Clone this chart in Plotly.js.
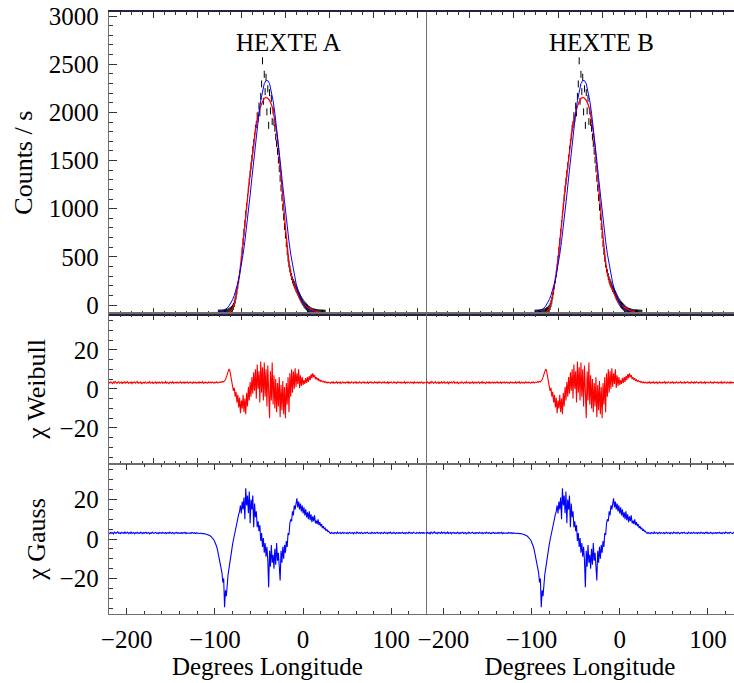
<!DOCTYPE html>
<html><head><meta charset="utf-8">
<script src="https://cdn.plot.ly/plotly-3.0.1.min.js"></script>
<style>html,body{margin:0;padding:0;background:#fff}#chart{width:734px;height:683px}</style>
</head><body><div id="chart"></div>
<script>
// ---- model fits (counts / s) ----
const fitX = [-220, -100, -96, -92, -88, -86, -84, -82, -80, -78, -76, -74, -72, -70, -68, -66, -64, -62, -60, -58,
  -56, -54, -52, -50, -48, -46, -44, -42, -40, -38, -36, -34, -32, -30, -28, -26, -24, -22, -20, -18,
  -16, -14, -12, -10, -8, -6, -4, -2, 0, 2, 4, 6, 8, 10, 14, 18, 22, 26, 30, 140];
const weibullFit = [-85, -85, -85, -85, -83, -80, -75, -65, -40, 10, 100, 200, 320, 475, 670, 855, 1030, 1195, 1355, 1525,
  1685, 1815, 1925, 2005, 2065, 2110, 2145, 2155, 2147, 2125, 2085, 2025, 1925, 1795, 1635, 1455, 1255, 1025, 805, 605,
  440, 325, 250, 200, 155, 105, 65, 35, 10, -5, -19, -30, -40, -49, -65, -76, -81, -84, -85, -85];
const gaussFit = [-85, -82, -77, -66, -45, -32, -10, 18, 54, 100, 157, 227, 312, 412, 528, 661, 809, 970, 1142, 1320,
  1500, 1676, 1841, 1992, 2121, 2225, 2298, 2330, 2330, 2298, 2225, 2121, 1992, 1841, 1676, 1500, 1320, 1142, 970, 809,
  661, 528, 412, 312, 227, 157, 100, 54, 18, -10, -33, -47, -57, -66, -77, -82, -84, -85, -85, -85];

// ---- measured count rate, 1 degree bins starting at -96 ----
const countsStart = -96;
const counts = [-84, -85, -83, -84, -82, -83, -81, -82, -79, -77, -75, -71, -67, -60, -55, -45, -33, -15, 15, 50,
  95, 145, 205, 260, 325, 395, 475, 565, 660, 755, 845, 945, 1025, 1115, 1205, 1285, 1365, 1445, 1525, 1615,
  1685, 1755, 1835, 1875, 1965, 1935, 2065, 1995, 2165, 2295, 2535, 2115, 2395, 2215, 2365, 2005, 2245, 1865, 2205, 2015,
  2145, 1905, 2015, 1895, 1835, 1745, 1675, 1595, 1505, 1415, 1315, 1215, 1115, 1015, 915, 815, 725, 635, 555, 485,
  425, 375, 335, 295, 260, 235, 215, 195, 170, 155, 135, 115, 95, 75, 55, 40, 25, 10, 0, -10,
  -20, -30, -40, -47, -55, -60, -65, -68, -71, -74, -76, -78, -79, -80, -81, -82, -83, -83, -84, -84,
  -85, -85];

// ---- residuals, 1 degree bins starting at -220 ----
const chiStart = -220;
const chiWeibull = [
  3.4, 2.9, 3.6, 3.1, 2.7, 3.5, 3.0, 3.8, 3.2, 2.8, 3.3, 3.7, 2.9, 3.1, 3.5, 2.6, 3.4, 3.0, 3.6, 2.9,
  3.2, 3.7, 2.8, 3.3, 3.0, 3.5, 2.7, 3.4, 3.1, 3.6, 2.9, 3.2, 3.8, 2.8, 3.3, 3.0, 3.5, 2.7, 3.2, 3.4,
  2.9, 3.6, 3.1, 2.8, 3.4, 3.0, 3.7, 2.9, 3.2, 3.5, 2.6, 3.3, 3.1, 3.6, 2.8, 3.4, 3.0, 3.5, 2.9, 3.2,
  3.6, 2.8, 3.3, 3.0, 3.7, 2.9, 3.4, 3.1, 2.7, 3.5, 3.2, 3.0, 3.6, 2.8, 3.3, 3.1, 3.5, 2.9, 3.4, 3.0,
  3.2, 3.7, 2.9, 3.3, 3.0, 3.5, 2.8, 3.4, 3.1, 3.6, 2.9, 3.2, 3.5, 3.0, 3.3, 2.8, 3.6, 3.1, 3.4, 2.9,
  3.3, 3.0, 3.6, 2.9, 3.4, 3.1, 3.7, 2.8, 3.2, 3.5, 3.0, 3.3, 2.9, 3.6, 3.1, 3.4, 3.0, 3.5, 3.2, 2.9,
  3.4, 3.1, 3.6, 3.0, 3.3, 3.5, 3.2, 3.7, 3.4, 3.8,
  3.6, 4.0, 4.8, 6.0, 7.6, 9.0, 10.1, 9.3, 6.8, 3.5,
  2.0, -1.0, 0.5, -4.0, -1.5, -7.0, -3.0, -9.5, -4.5, -12.5, -6.0, -10.0, -3.0, -12.0, -5.0, -13.0, -2.0, -9.0, 1.0, -6.0,
  3.5, -4.0, 6.0, -2.5, 8.5, -1.0, 10.0, -5.0, 12.5, 0.0, 9.0, -7.0, 14.0, -2.0, 11.0, -6.0, 13.5, -4.0, 10.0, -9.0,
  12.0, -3.0, -15.0, 9.0, -6.0, 13.5, -8.0, 7.0, -10.0, 5.0, -12.0, 3.0, -9.0, 6.0, -14.5, 2.0, -11.0, 4.0, -13.0, 1.0,
  -15.0, 3.0, -8.0, 6.0, -12.0, 8.0, -4.0, 10.0, -2.0, 9.0, 0.0, 10.6, 1.0, 8.0, 2.5, 10.0, 0.5, 7.0, 1.5, 6.0,
  2.0, 4.5, 2.5, 5.5, 3.0, 6.0, 3.5, 6.5, 4.5, 7.5, 5.5, 8.0, 6.0, 7.0, 5.0, 6.0, 4.5, 5.5, 4.0, 4.6,
  3.8, 4.2, 3.6, 3.9, 3.3, 3.7, 3.1, 3.5, 3.0, 3.4,
  3.2, 2.9, 3.5, 3.0, 3.6, 2.8, 3.3, 3.1, 3.7, 2.9, 3.4, 3.0, 3.5, 2.7, 3.2, 3.6, 3.0, 3.3, 2.9, 3.5,
  3.1, 3.7, 2.8, 3.4, 3.0, 3.6, 3.2, 2.9, 3.5, 3.1, 3.8, 2.8, 3.3, 3.0, 3.6, 3.2, 2.9, 3.4, 3.1, 3.7,
  2.9, 3.3, 3.0, 3.5, 2.8, 3.4, 3.2, 3.6, 3.0, 3.3, 2.9, 3.7, 3.1, 3.4, 2.8, 3.5, 3.0, 3.6, 3.2, 2.9,
  3.4, 3.1, 3.7, 2.9, 3.3, 3.0, 3.6, 2.8, 3.4, 3.2, 3.5, 2.9, 3.1, 3.7, 3.0, 3.3, 2.8, 3.6, 3.2, 3.4,
  3.0, 3.5, 2.9, 3.3, 3.1, 3.7, 2.8, 3.4, 3.0, 3.6, 3.2, 2.9, 3.5, 3.1, 3.4, 2.8, 3.6, 3.0, 3.3, 3.1,
  3.5, 2.9, 3.4, 3.0, 3.6, 3.2, 2.8, 3.4, 3.1, 3.5];
const chiGauss = [
  3.1, 2.7, 3.4, 2.9, 3.2, 2.6, 3.5, 3.0, 2.8, 3.3, 3.6, 2.9, 3.1, 2.7, 3.4, 3.0, 3.2, 2.8, 3.5, 2.9,
  3.0, 3.4, 2.7, 3.2, 2.9, 3.5, 2.8, 3.1, 3.3, 2.6, 3.2, 3.0, 3.4, 2.8, 3.1, 2.9, 3.5, 3.0, 2.7, 3.3,
  2.9, 3.2, 3.4, 2.8, 3.0, 3.3, 2.6, 3.1, 2.9, 3.5, 3.0, 2.8, 3.2, 3.4, 2.9, 3.1, 2.7, 3.3, 3.0, 3.2,
  2.8, 3.4, 3.0, 2.9, 3.3, 2.7, 3.1, 3.2, 2.8, 3.5, 3.0, 2.9, 3.3, 3.1, 2.7, 3.2, 3.0, 3.4, 2.8, 3.1,
  3.0, 2.9, 3.3, 2.8, 3.2, 3.0, 3.4, 2.7, 3.1, 3.0, 3.2, 2.9, 3.1, 2.8, 3.3, 3.0, 2.9, 3.2, 2.8, 3.1,
  3.0, 2.9, 3.1, 2.8, 3.0, 2.7, 2.9, 2.6, 2.8, 2.5, 2.4, 2.3, 2.1, 2.0, 1.7, 1.5, 1.1, 0.7, 0.2, -0.5,
  -1.5, -2.5, -3.8, -5.5, -7.5, -10.0, -12.5, -15.0, -17.0, -22.0, -20.0, -34.6, -26.0, -29.0, -20.0, -18.0, -15.0, -11.5, -8.5, -5.5,
  -3.0, -0.5, 2.0, 4.0, 6.5, 9.0, 11.0, 12.5, 14.0, 17.0, 13.0, 19.0, 15.0, 21.0, 10.0, 25.7, 17.0, 22.0, 13.0, 24.0,
  8.0, 20.0, 15.0, 22.0, 6.0, 18.0, 11.0, 14.0, 6.0, 9.0, 4.0, 7.0, -1.0, 3.0, -4.0, 0.5, -7.0, -2.0, -9.0, -4.0,
  -11.0, -24.5, -6.0, -14.0, -3.0, -12.0, -8.0, -15.0, -5.0, -13.0, -2.0, -11.0, -7.0, -14.0, -21.0, -6.0, -12.0, -4.0, -10.0, -3.0,
  -7.0, -1.0, -4.0, 3.0, 2.0, 8.0, 10.0, 9.0, 14.0, 12.0, 17.0, 15.0, 19.0, 20.6, 16.0, 19.0, 15.0, 18.0, 14.0, 17.0,
  13.0, 16.0, 12.0, 15.0, 11.0, 13.5, 10.0, 14.0, 9.5, 12.5, 8.5, 11.5, 9.0, 12.0, 8.0, 9.3, 7.5, 10.0, 7.0, 8.5,
  6.5, 7.5, 5.5, 6.5, 5.0, 5.5, 4.2, 4.8, 3.8, 4.0,
  3.2, 2.8, 3.4, 2.9, 3.1, 2.7, 3.3, 3.0, 2.8, 3.5, 2.9, 3.1, 3.3, 2.7, 3.0, 3.4, 2.8, 3.2, 3.0, 2.9,
  3.3, 2.7, 3.1, 3.4, 2.9, 3.0, 3.2, 2.6, 3.3, 3.0, 2.8, 3.5, 3.1, 2.9, 3.2, 2.8, 3.4, 3.0, 2.7, 3.1,
  3.3, 2.9, 3.0, 3.4, 2.8, 3.2, 3.1, 2.7, 3.5, 3.0, 2.9, 3.3, 2.8, 3.1, 3.4, 2.9, 3.0, 3.2, 2.7, 3.3,
  3.0, 2.8, 3.4, 3.1, 2.9, 3.2, 2.7, 3.3, 3.0, 3.5, 2.8, 3.1, 2.9, 3.4, 3.0, 2.7, 3.2, 3.1, 2.9, 3.3,
  2.8, 3.2, 3.0, 3.4, 2.9, 3.1, 2.7, 3.3, 3.0, 2.8, 3.5, 3.1, 2.9, 3.2, 2.8, 3.4, 3.0, 3.1, 2.7, 3.3,
  3.0, 2.9, 3.4, 2.8, 3.2, 3.0, 3.3, 2.9, 3.1, 3.0];

const panelTitles = ['HEXTE A', 'HEXTE B'];
const xLabelTicks = [-200, -100, 0, 100];
const chiTicks = [-20, 0, 20];

const FONT = 'Liberation Serif, Times New Roman, serif';
const FRAME = '#6e6e6e';
const TICKC = '#333';

const traces = [];
for (let c = 0; c < 2; c++) {
  const s = c === 0 ? '' : '2';
  const xa = ['x' + s, 'x' + (c === 0 ? 3 : 4), 'x' + (c === 0 ? 5 : 6)];
  const ya = ['y' + s, 'y' + (c === 0 ? 3 : 4), 'y' + (c === 0 ? 5 : 6)];
  traces.push({type: 'scatter', mode: 'markers', x0: countsStart, dx: 1, y: counts,
    xaxis: xa[0], yaxis: ya[0], marker: {symbol: 'line-ns-open', size: 5, color: '#000', line: {color: '#000', width: 1}},
    hoverinfo: 'skip', showlegend: false, cliponaxis: true});
  traces.push({type: 'scatter', mode: 'lines', x: fitX, y: weibullFit, xaxis: xa[0], yaxis: ya[0],
    line: {color: '#ff0000', width: 1.3}, showlegend: false});
  traces.push({type: 'scatter', mode: 'lines', x: fitX, y: gaussFit, xaxis: xa[0], yaxis: ya[0],
    line: {color: '#0000ff', width: 1}, showlegend: false});
  traces.push({type: 'scatter', mode: 'lines', x0: chiStart, dx: 1, y: chiWeibull, xaxis: xa[1], yaxis: ya[1],
    line: {color: '#ff0000', width: 1.1}, showlegend: false});
  traces.push({type: 'scatter', mode: 'lines', x0: chiStart, dx: 1, y: chiGauss, xaxis: xa[2], yaxis: ya[2],
    line: {color: '#0000ff', width: 1.1}, showlegend: false});
}

const colX = [[109/734, 425.7/734], [425.7/734, 1]];
const colRange = [[-220, 139], [-220, 129.5]];
const rowY = [[1 - 313.7/683, 1 - 11.7/683], [1 - 464/683, 1 - 313.7/683], [1 - 614/683, 1 - 464/683]];

function xAxis(c, r) {
  const anchorNum = 1 + c + 2 * r;
  const a = {
    domain: colX[c], range: colRange[c], anchor: 'y' + (anchorNum === 1 ? '' : anchorNum),
    showgrid: false, zeroline: false, showline: true, linecolor: FRAME, linewidth: 1.3, mirror: 'ticks',
    ticks: 'inside', ticklen: 6, tickwidth: 1, tickcolor: TICKC, layer: 'below traces',
    tickfont: {family: FONT, size: 25, color: '#000'}
  };
  if (r < 2) {
    Object.assign(a, {tickmode: 'linear', tick0: -220, dtick: 50, showticklabels: false,
      minor: {ticks: 'inside', ticklen: 3, tickcolor: TICKC, tick0: -220, dtick: 12.5}});
    if (r === 0) { a.linecolor = '#2b2040'; a.linewidth = 1.8; }
  } else {
    Object.assign(a, {tickmode: 'array', tickvals: xLabelTicks, showticklabels: true, ticklabelstandoff: 3,
      minor: {ticks: 'inside', ticklen: 3, tickcolor: TICKC, tick0: 0, dtick: 20},
      title: {text: 'Degrees Longitude', font: {family: FONT, size: 25, color: '#000'}, standoff: 3}});
  }
  return a;
}
function yAxis(c, r) {
  const num = 1 + c + 2 * r;
  const a = {
    domain: rowY[r], anchor: 'x' + (num === 1 ? '' : num),
    showgrid: false, zeroline: false, showline: c === 0, linecolor: FRAME, linewidth: 1.3, mirror: true,
    ticks: c === 0 ? 'inside' : '', ticklen: 8, tickwidth: 1, tickcolor: TICKC,
    showticklabels: c === 0, ticklabelstandoff: 4,
    tickfont: {family: FONT, size: 25, color: '#000'}
  };
  if (r === 0) {
    Object.assign(a, {range: [-90, 3045], tickmode: 'linear', tick0: 0, dtick: 500,
      minor: c === 0 ? {ticks: 'inside', ticklen: 4, tickcolor: TICKC, tick0: 0, dtick: 100} : {ticks: ''}});
    if (c === 0) a.title = {text: 'Counts / s', font: {family: FONT, size: 26, color: '#000'}, standoff: 8};
  } else {
    Object.assign(a, {range: r === 1 ? [-38.5, 38.5] : [-38, 38], tickmode: 'array', tickvals: chiTicks,
      minor: c === 0 ? {ticks: 'inside', ticklen: 4, tickcolor: TICKC, tick0: 0, dtick: 5} : {ticks: ''}});
    if (c === 0) a.title = {text: r === 1 ? 'χ Weibull' : 'χ Gauss', font: {family: FONT, size: 26, color: '#000'}, standoff: 6};
  }
  return a;
}

const layout = {
  width: 734, height: 683, margin: {l: 0, r: 0, t: 0, b: 0},
  paper_bgcolor: '#fff', plot_bgcolor: '#fff', showlegend: false,
  annotations: panelTitles.map((t, c) => ({
    text: t, xref: 'paper', yref: 'paper', x: c === 0 ? 288/734 : 601/734, y: 1 - 43/683,
    xanchor: 'center', yanchor: 'middle', showarrow: false,
    font: {family: FONT, size: 25, color: '#000'}
  }))
};
for (let r = 0; r < 3; r++) for (let c = 0; c < 2; c++) {
  const num = 1 + c + 2 * r;
  layout['xaxis' + (num === 1 ? '' : num)] = xAxis(c, r);
  layout['yaxis' + (num === 1 ? '' : num)] = yAxis(c, r);
}
Plotly.newPlot('chart', traces, layout, {staticPlot: true, displayModeBar: false});
</script>
</body></html>
